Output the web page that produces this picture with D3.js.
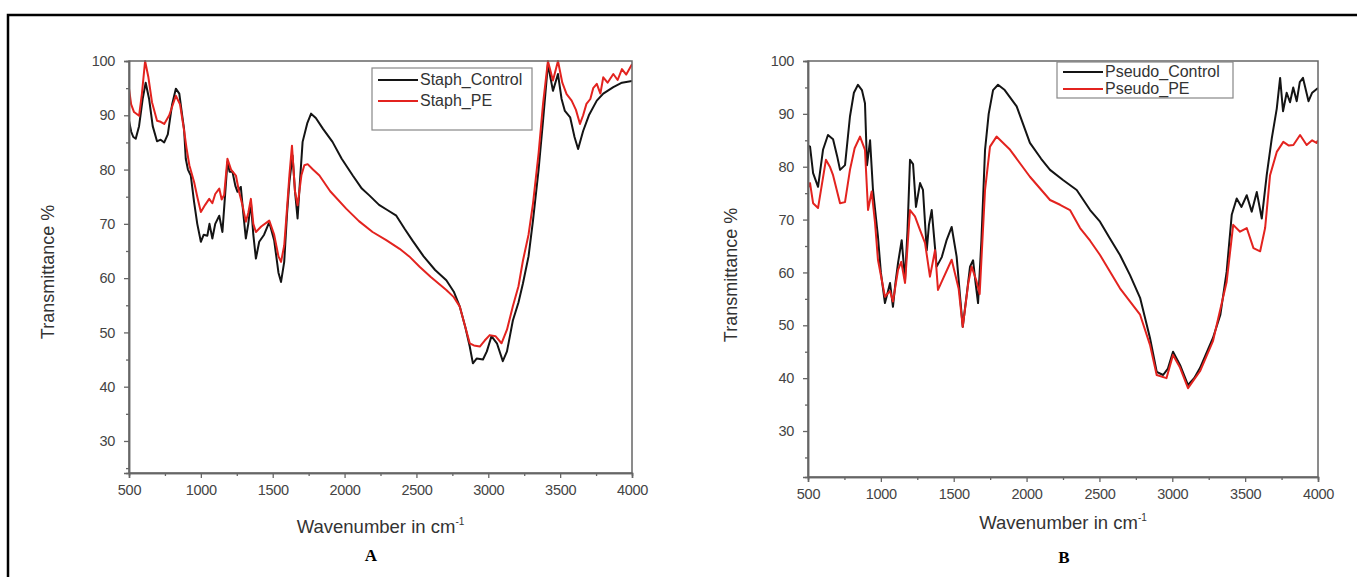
<!DOCTYPE html>
<html>
<head>
<meta charset="utf-8">
<title>FTIR spectra</title>
<script src="https://cdn.jsdelivr.net/npm/d3@7"></script>
<style>
body { margin: 0; padding: 0; background: #fff; font-family: "Liberation Sans", Arial, sans-serif; }
svg { display: block; }
</style>
</head>
<body>
<div id="chart"></div>
<script>
// ---- data ----
var staphControlX = [500,515,530,547,570,595,616,640,665,695,720,745,770,800,826,850,870,883,895,910,930,953,975,1000,1020,1045,1060,1080,1100,1128,1150,1165,1185,1200,1220,1240,1255,1278,1295,1313,1330,1348,1365,1383,1406,1440,1476,1510,1540,1558,1580,1600,1616,1638,1655,1673,1690,1708,1740,1767,1800,1850,1916,1980,2057,2120,2174,2240,2300,2360,2420,2473,2550,2630,2708,2760,2801,2840,2871,2893,2920,2963,2990,3022,3060,3101,3130,3171,3210,3241,3280,3311,3350,3381,3415,3450,3485,3510,3533,3570,3600,3625,3660,3700,3755,3800,3870,3930,4000];
var staphControlY = [89,87,86,85.7,88,93,96,93,88,85.2,85.5,85,86.5,92,94.9,94,90,87.5,82,80,78.9,74,70,66.7,68,67.8,70,67.3,70,71.5,68.5,74,81.4,79.6,79.6,77,75.9,76.8,72,67.3,70,74,68,63.6,66.7,68,70.3,67,61,59.3,63,72,77.7,82.6,76,71,78,85.1,88.5,90.3,89.5,87.5,85.1,82,78.9,76.5,75.2,73.5,72.5,71.5,69,66.9,64,61.5,59.6,57.5,54.8,51,47.4,44.3,45.2,45,46.5,49.3,48,44.7,46.5,52.2,55.5,59,64,70.6,80,89,99.4,94.5,97.6,93,90.8,89.6,86,83.8,87.1,90,92.7,94,95.2,96,96.3];

var staphPEX = [500,515,535,570,590,612,635,660,695,720,745,780,826,855,885,900,920,953,975,1000,1030,1058,1080,1100,1128,1145,1162,1185,1210,1244,1265,1290,1313,1330,1348,1365,1383,1420,1476,1510,1540,1558,1580,1600,1616,1634,1655,1673,1700,1720,1743,1780,1825,1900,2011,2100,2195,2290,2383,2450,2522,2600,2708,2760,2801,2840,2871,2900,2941,2975,3010,3050,3092,3130,3171,3210,3241,3280,3311,3350,3381,3415,3450,3485,3515,3545,3580,3610,3638,3660,3683,3710,3730,3755,3780,3800,3830,3870,3900,3930,3960,4000];
var staphPEY = [94.9,92,90.6,89.9,94,100,97,92.4,89,88.8,88.4,90,93.6,92,86.9,84,80.8,77.7,75,72.2,73.5,74.6,73.8,75.5,76.5,74.5,75.3,82,80,78.9,76,73.4,70.4,72,74.6,70,68.5,69.5,70.6,68,64,63,66,73,78.9,84.4,76,73.4,79,80.8,81,80,78.9,76,72.8,70.5,68.5,67,65.4,64,62.1,60.2,57.8,56.5,54.8,51,48,47.6,47.4,48.5,49.5,49.3,48,50.5,54.8,58.5,63.2,68,73.7,83,92.1,100,96.4,100,96,93.9,92.7,91,88.4,90,92.1,93,95,95.8,94,97,96,97.6,96.5,98.5,97.5,99.4];

var pseudoControlX = [500,514,535,569,603,637,672,700,720,754,788,815,843,870,891,905,926,946,980,1000,1028,1045,1063,1083,1100,1118,1143,1166,1183,1200,1221,1241,1269,1289,1315,1330,1349,1383,1418,1450,1486,1520,1545,1562,1590,1612,1633,1650,1667,1690,1715,1740,1770,1804,1850,1932,2023,2100,2161,2250,2344,2436,2504,2570,2641,2710,2779,2847,2893,2937,2970,3005,3053,3108,3150,3190,3279,3330,3373,3408,3442,3475,3511,3545,3580,3614,3648,3683,3717,3740,3760,3785,3808,3830,3854,3875,3897,3935,3960,4000];
var pseudoControlY = [84,83.8,78.8,76.2,83.2,86,85.2,82,79.4,80.3,89.5,94,95.5,94.5,92,80.3,85,75.6,66.8,60,54.2,56,58,53.5,58,61.8,66.1,58.6,68,81.3,80.5,72.4,76.9,75.6,64.2,69,71.8,61.1,62.9,66,68.6,63,55,49.7,56,61.1,62.3,58,54.2,66,83.2,90,94.5,95.5,94.5,91.4,84.5,81.5,79.4,77.5,75.6,71.8,69.6,66.5,63.3,59.5,55.2,47.6,41.2,40.6,41.8,45,42.5,38.7,40,41.9,47.6,52,60.1,70.9,74,72.4,74.6,71.5,75.2,70.2,78.4,85.4,91,96.8,90.5,94,92.2,95,92.4,96,96.8,92.4,94,94.9];

var pseudoPEX = [500,514,535,569,623,650,672,720,754,788,820,857,891,912,937,960,980,1028,1063,1083,1118,1140,1166,1200,1234,1269,1303,1337,1372,1392,1420,1486,1534,1562,1600,1623,1656,1678,1715,1749,1794,1887,2023,2161,2230,2298,2367,2436,2504,2641,2779,2847,2893,2960,3005,3053,3108,3190,3279,3373,3418,3465,3511,3557,3603,3637,3671,3717,3762,3800,3831,3877,3922,3960,3990,4000];
var pseudoPEY = [76,76.9,73.1,72.2,81.3,80,78.4,73.1,73.3,79.4,83.5,85.7,83.2,71.8,75.3,69.4,62.4,55.4,56.5,54.5,60.5,62,58,71.8,70.6,68,65.6,59.2,64.2,56.7,58.4,62.4,56.9,49.7,58,61.1,58.4,55.9,75.6,83.8,85.7,83.2,78.1,73.7,72.8,71.8,68.4,66,63.3,57,52,46.3,40.6,40,44.4,42,38.1,41.3,47,58.2,69,67.7,68.4,64.6,64,68.4,78.4,82.8,84.7,84,84.1,86,84.1,85,84.5,85];

var xTicks = [500,1000,1500,2000,2500,3000,3500,4000];
var yTicks = [30,40,50,60,70,80,90,100];
var staphNames = ["Staph_Control", "Staph_PE"];
var pseudoNames = ["Pseudo_Control", "Pseudo_PE"];
var panelLetters = ["A", "B"];

var lineColors = ["#141414", "#e3231f"];

var svg = d3.select("#chart").append("svg")
  .attr("width", 1357).attr("height", 577);

// outer frame (left + top only, rest runs off the picture)
svg.append("path")
  .attr("d", "M8,577V15H1357")
  .attr("fill", "none").attr("stroke", "#000").attr("stroke-width", 2.5);

function zip(xs, ys) { return xs.map(function(x, i){ return [x, ys[i]]; }); }

function drawPanel(cfg) {
  var x = d3.scaleLinear().domain([500, 4000]).range([cfg.left, cfg.right]);
  var y = d3.scaleLinear().domain([cfg.yMin, 100]).range([cfg.bottom, cfg.top]);
  var g = svg.append("g");

  var clipId = "clip" + cfg.letter;
  svg.append("clipPath").attr("id", clipId).append("rect")
    .attr("x", cfg.left).attr("y", cfg.top - 1)
    .attr("width", cfg.right - cfg.left).attr("height", cfg.bottom - cfg.top + 1);

  var line = d3.line().x(function(d){ return x(d[0]); }).y(function(d){ return y(d[1]); });

  // control first, then PE on top
  cfg.series.forEach(function(s, i) {
    g.append("path")
      .datum(s)
      .attr("clip-path", "url(#" + clipId + ")")
      .attr("fill", "none")
      .attr("stroke", lineColors[i])
      .attr("stroke-width", 2)
      .attr("stroke-linejoin", "round")
      .attr("d", line);
  });

  // frame around the plot
  g.append("rect")
    .attr("x", cfg.left).attr("y", cfg.top)
    .attr("width", cfg.right - cfg.left).attr("height", cfg.bottom - cfg.top)
    .attr("fill", "none").attr("stroke", "#666").attr("stroke-width", 1.5);

  // bottom axis
  g.append("g").attr("transform", "translate(0," + cfg.bottom + ")")
    .call(d3.axisBottom(x).tickValues(xTicks).tickSize(5).tickPadding(7).tickFormat(d3.format("d")));
  g.append("g").attr("transform", "translate(0," + cfg.bottom + ")")
    .call(d3.axisBottom(x).tickValues(d3.range(750, 4000, 500)).tickSize(3).tickFormat(""));

  // left axis
  g.append("g").attr("transform", "translate(" + cfg.left + ",0)")
    .call(d3.axisLeft(y).tickValues(yTicks).tickSize(5).tickPadding(cfg.yPad));
  g.append("g").attr("transform", "translate(" + cfg.left + ",0)")
    .call(d3.axisLeft(y).tickValues(d3.range(25, 100, 10)).tickSize(3).tickFormat(""));

  g.selectAll(".domain").attr("stroke", "#666").attr("stroke-width", 1.5);
  g.selectAll(".tick line").attr("stroke", "#666").attr("stroke-width", 1.3);
  g.selectAll(".tick text")
    .attr("fill", "#444")
    .style("font-family", "'Liberation Sans', Arial, sans-serif")
    .style("font-size", "14.5px")
    .style("letter-spacing", "-0.3px");

  // axis titles
  g.append("text")
    .attr("transform", "translate(" + cfg.yTitleX + "," + cfg.yTitleY + ") rotate(-90)")
    .attr("text-anchor", "middle")
    .attr("fill", "#333")
    .style("font-size", "18px")
    .text("Transmittance %");

  var xt = g.append("text")
    .attr("x", (cfg.left + cfg.right) / 2)
    .attr("y", cfg.xTitleY)
    .attr("text-anchor", "middle")
    .attr("fill", "#333")
    .style("font-size", "18.5px");
  xt.append("tspan").text("Wavenumber in cm");
  xt.append("tspan").attr("dy", -8).style("font-size", "10px").text("-1");

  // panel letter
  g.append("text")
    .attr("x", cfg.letterX).attr("y", cfg.letterY)
    .attr("text-anchor", "middle")
    .style("font-family", "'Liberation Serif', 'Times New Roman', serif")
    .style("font-weight", "bold")
    .style("font-size", "17px")
    .attr("fill", "#000")
    .text(cfg.letter);

  // legend
  var lg = g.append("g");
  lg.append("rect")
    .attr("x", cfg.legX).attr("y", cfg.legY)
    .attr("width", cfg.legW).attr("height", cfg.legH)
    .attr("fill", "#fff").attr("stroke", "#888").attr("stroke-width", 1.2);
  cfg.names.forEach(function(n, i) {
    var yy = cfg.legY + cfg.legRow0 + i * cfg.legStep;
    lg.append("line")
      .attr("x1", cfg.legX + 6).attr("x2", cfg.legX + 46)
      .attr("y1", yy).attr("y2", yy)
      .attr("stroke", lineColors[i]).attr("stroke-width", 2);
    lg.append("text")
      .attr("x", cfg.legX + 48).attr("y", yy + 5)
      .attr("fill", "#333")
      .style("font-size", cfg.legFont)
      .text(n);
  });
}

drawPanel({
  letter: panelLetters[0],
  left: 129, right: 632, top: 61, bottom: 473, yMin: 24.1, yPad: 9,
  series: [zip(staphControlX, staphControlY), zip(staphPEX, staphPEY)],
  names: staphNames,
  yTitleX: 54, yTitleY: 272, xTitleY: 533, letterX: 371, letterY: 561,
  legX: 372, legY: 68, legW: 160, legH: 62, legRow0: 12, legStep: 21, legFont: "16px"
});

drawPanel({
  letter: panelLetters[1],
  left: 808, right: 1318, top: 61, bottom: 477, yMin: 21.3, yPad: 9,
  series: [zip(pseudoControlX, pseudoControlY), zip(pseudoPEX, pseudoPEY)],
  names: pseudoNames,
  yTitleX: 737, yTitleY: 275, xTitleY: 529, letterX: 1064, letterY: 563,
  legX: 1057, legY: 62, legW: 176, legH: 36, legRow0: 10, legStep: 17, legFont: "16px"
});
</script>
</body>
</html>
